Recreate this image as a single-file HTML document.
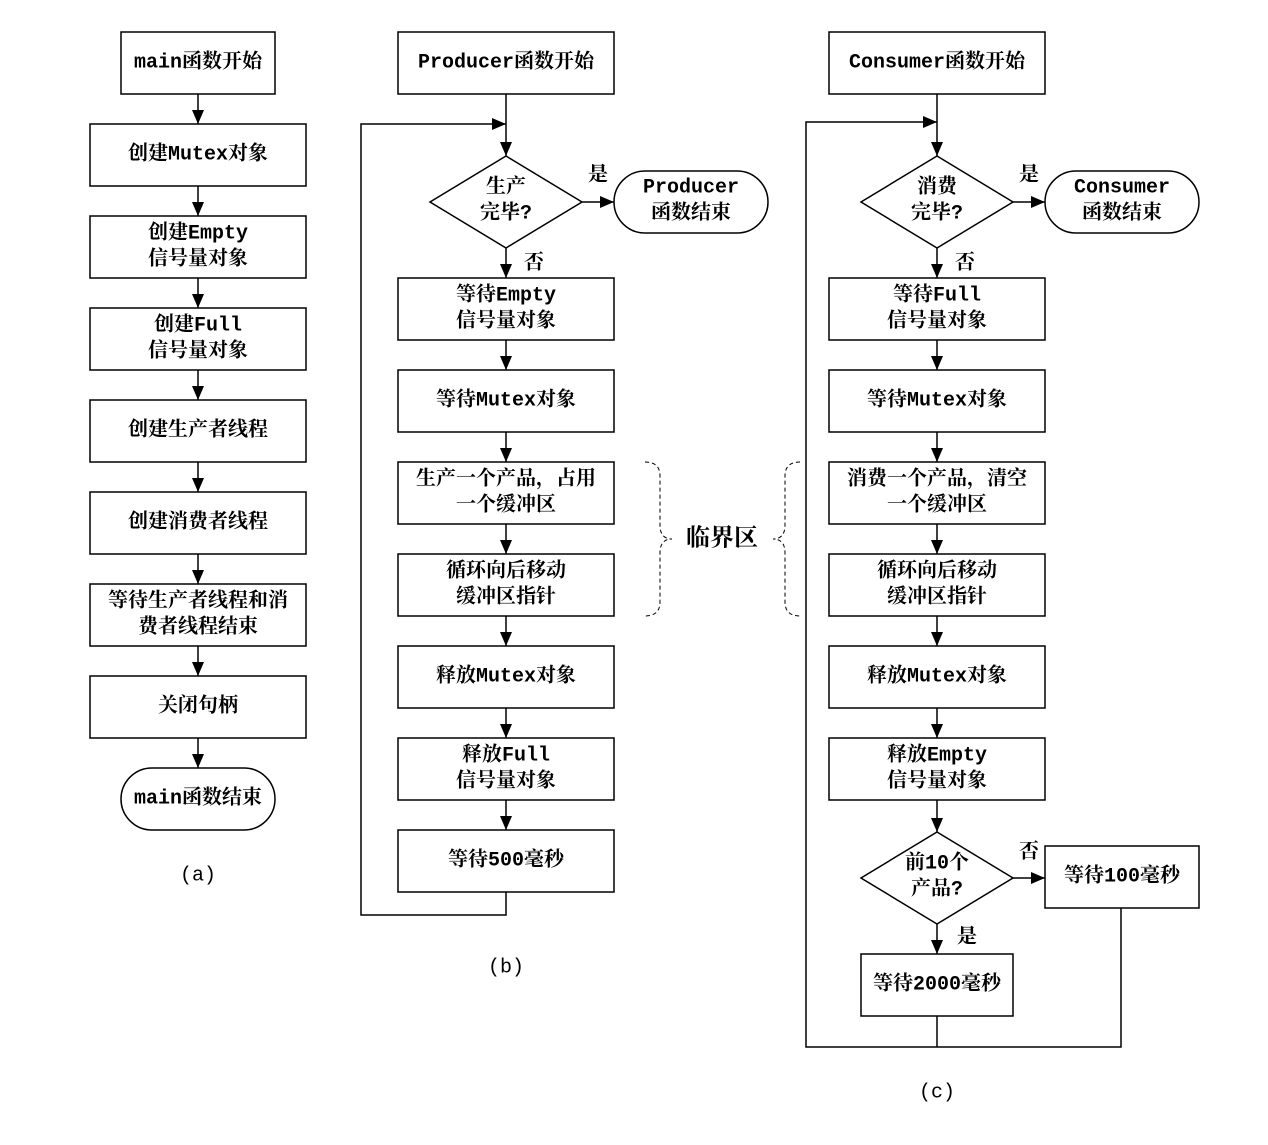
<!DOCTYPE html>
<html><head><meta charset="utf-8"><style>
html,body{margin:0;padding:0;background:#fff;}
svg text{font-family:"Liberation Mono","Noto Serif CJK SC",serif;font-size:20px;fill:#000;text-anchor:middle;dominant-baseline:central;font-weight:bold;}
</style></head><body>
<svg width="1268" height="1140" viewBox="0 0 1268 1140" xmlns="http://www.w3.org/2000/svg">
<defs><marker id="ar" markerWidth="10" markerHeight="10" refX="10" refY="5" orient="auto" markerUnits="userSpaceOnUse"><path d="M0,0 L10,5 L0,10 z" fill="#000"/></marker>
<marker id="ah" markerWidth="14" markerHeight="12" refX="14" refY="6" orient="auto" markerUnits="userSpaceOnUse"><path d="M0,0 L14,6 L0,12 z" fill="#000"/></marker></defs>
<g fill="none" stroke="#000" stroke-width="1.5">
<!-- column a -->
<rect x="121" y="32" width="154" height="62"/>
<rect x="90" y="124" width="216" height="62"/>
<rect x="90" y="216" width="216" height="62"/>
<rect x="90" y="308" width="216" height="62"/>
<rect x="90" y="400" width="216" height="62"/>
<rect x="90" y="492" width="216" height="62"/>
<rect x="90" y="584" width="216" height="62"/>
<rect x="90" y="676" width="216" height="62"/>
<rect x="121" y="768" width="154" height="62" rx="31"/>
<line x1="198" y1="94" x2="198" y2="124" marker-end="url(#ah)"/>
<line x1="198" y1="186" x2="198" y2="216" marker-end="url(#ah)"/>
<line x1="198" y1="278" x2="198" y2="308" marker-end="url(#ah)"/>
<line x1="198" y1="370" x2="198" y2="400" marker-end="url(#ah)"/>
<line x1="198" y1="462" x2="198" y2="492" marker-end="url(#ah)"/>
<line x1="198" y1="554" x2="198" y2="584" marker-end="url(#ah)"/>
<line x1="198" y1="646" x2="198" y2="676" marker-end="url(#ah)"/>
<line x1="198" y1="738" x2="198" y2="768" marker-end="url(#ah)"/>
<!-- column b -->
<rect x="398" y="32" width="216" height="62"/>
<polygon points="506,156 582,202 506,248 430,202"/>
<rect x="614" y="171" width="154" height="62" rx="31"/>
<rect x="398" y="278" width="216" height="62"/>
<rect x="398" y="370" width="216" height="62"/>
<rect x="398" y="462" width="216" height="62"/>
<rect x="398" y="554" width="216" height="62"/>
<rect x="398" y="646" width="216" height="62"/>
<rect x="398" y="738" width="216" height="62"/>
<rect x="398" y="830" width="216" height="62"/>
<line x1="506" y1="94" x2="506" y2="156" marker-end="url(#ah)"/>
<line x1="582" y1="202" x2="614" y2="202" marker-end="url(#ah)"/>
<line x1="506" y1="248" x2="506" y2="278" marker-end="url(#ah)"/>
<line x1="506" y1="340" x2="506" y2="370" marker-end="url(#ah)"/>
<line x1="506" y1="432" x2="506" y2="462" marker-end="url(#ah)"/>
<line x1="506" y1="524" x2="506" y2="554" marker-end="url(#ah)"/>
<line x1="506" y1="616" x2="506" y2="646" marker-end="url(#ah)"/>
<line x1="506" y1="708" x2="506" y2="738" marker-end="url(#ah)"/>
<line x1="506" y1="800" x2="506" y2="830" marker-end="url(#ah)"/>
<polyline points="506,892 506,915 361,915 361,124 506,124" marker-end="url(#ah)"/>
<!-- column c -->
<rect x="829" y="32" width="216" height="62"/>
<polygon points="937,156 1013,202 937,248 861,202"/>
<rect x="1045" y="171" width="154" height="62" rx="31"/>
<rect x="829" y="278" width="216" height="62"/>
<rect x="829" y="370" width="216" height="62"/>
<rect x="829" y="462" width="216" height="62"/>
<rect x="829" y="554" width="216" height="62"/>
<rect x="829" y="646" width="216" height="62"/>
<rect x="829" y="738" width="216" height="62"/>
<polygon points="937,832 1013,878 937,924 861,878"/>
<rect x="1045" y="846" width="154" height="62"/>
<rect x="861" y="954" width="152" height="62"/>
<line x1="937" y1="94" x2="937" y2="156" marker-end="url(#ah)"/>
<line x1="1013" y1="202" x2="1045" y2="202" marker-end="url(#ah)"/>
<line x1="937" y1="248" x2="937" y2="278" marker-end="url(#ah)"/>
<line x1="937" y1="340" x2="937" y2="370" marker-end="url(#ah)"/>
<line x1="937" y1="432" x2="937" y2="462" marker-end="url(#ah)"/>
<line x1="937" y1="524" x2="937" y2="554" marker-end="url(#ah)"/>
<line x1="937" y1="616" x2="937" y2="646" marker-end="url(#ah)"/>
<line x1="937" y1="708" x2="937" y2="738" marker-end="url(#ah)"/>
<line x1="937" y1="800" x2="937" y2="832" marker-end="url(#ah)"/>
<line x1="1013" y1="878" x2="1045" y2="878" marker-end="url(#ah)"/>
<line x1="937" y1="924" x2="937" y2="954" marker-end="url(#ah)"/>
<polyline points="937,1016 937,1047"/>
<polyline points="1121,908 1121,1047 806,1047 806,122 937,122" marker-end="url(#ah)"/>
<!-- brackets -->
<path d="M645,462 Q660,462 660,476 L660,525 Q660,539 672,539 Q660,539 660,553 L660,602 Q660,616 645,616" stroke-dasharray="4,3" stroke-width="1"/>
<path d="M800,462 Q785,462 785,476 L785,525 Q785,539 773,539 Q785,539 785,553 L785,602 Q785,616 800,616" stroke-dasharray="4,3" stroke-width="1"/>
</g>
<text x="198" y="63">main函数开始</text>
<text x="198" y="155">创建Mutex对象</text>
<text x="198" y="234">创建Empty</text><text x="198" y="260">信号量对象</text>
<text x="198" y="326">创建Full</text><text x="198" y="352">信号量对象</text>
<text x="198" y="431">创建生产者线程</text>
<text x="198" y="523">创建消费者线程</text>
<text x="198" y="602">等待生产者线程和消</text><text x="198" y="628">费者线程结束</text>
<text x="198" y="707">关闭句柄</text>
<text x="198" y="799">main函数结束</text>
<text x="198" y="876" style="font-weight:normal">(a)</text>

<text x="506" y="63">Producer函数开始</text>
<text x="506" y="188">生产</text><text x="506" y="214">完毕?</text>
<text x="598" y="176">是</text>
<text x="691" y="188">Producer</text><text x="691" y="214">函数结束</text>
<text x="534" y="264">否</text>
<text x="506" y="296">等待Empty</text><text x="506" y="322">信号量对象</text>
<text x="506" y="401">等待Mutex对象</text>
<text x="506" y="480">生产一个产品，占用</text><text x="506" y="506">一个缓冲区</text>
<text x="506" y="572">循环向后移动</text><text x="506" y="598">缓冲区指针</text>
<text x="506" y="677">释放Mutex对象</text>
<text x="506" y="756">释放Full</text><text x="506" y="782">信号量对象</text>
<text x="506" y="861">等待500毫秒</text>
<text x="506" y="968" style="font-weight:normal">(b)</text>

<text x="722" y="540" style="font-size:24px">临界区</text>

<text x="937" y="63">Consumer函数开始</text>
<text x="937" y="188">消费</text><text x="937" y="214">完毕?</text>
<text x="1029" y="176">是</text>
<text x="1122" y="188">Consumer</text><text x="1122" y="214">函数结束</text>
<text x="965" y="264">否</text>
<text x="937" y="296">等待Full</text><text x="937" y="322">信号量对象</text>
<text x="937" y="401">等待Mutex对象</text>
<text x="937" y="480">消费一个产品，清空</text><text x="937" y="506">一个缓冲区</text>
<text x="937" y="572">循环向后移动</text><text x="937" y="598">缓冲区指针</text>
<text x="937" y="677">释放Mutex对象</text>
<text x="937" y="756">释放Empty</text><text x="937" y="782">信号量对象</text>
<text x="937" y="864">前10个</text><text x="937" y="890">产品?</text>
<text x="1029" y="853">否</text>
<text x="1122" y="877">等待100毫秒</text>
<text x="967" y="938">是</text>
<text x="937" y="985">等待2000毫秒</text>
<text x="937" y="1093" style="font-weight:normal">(c)</text>
</svg>
</body></html>
